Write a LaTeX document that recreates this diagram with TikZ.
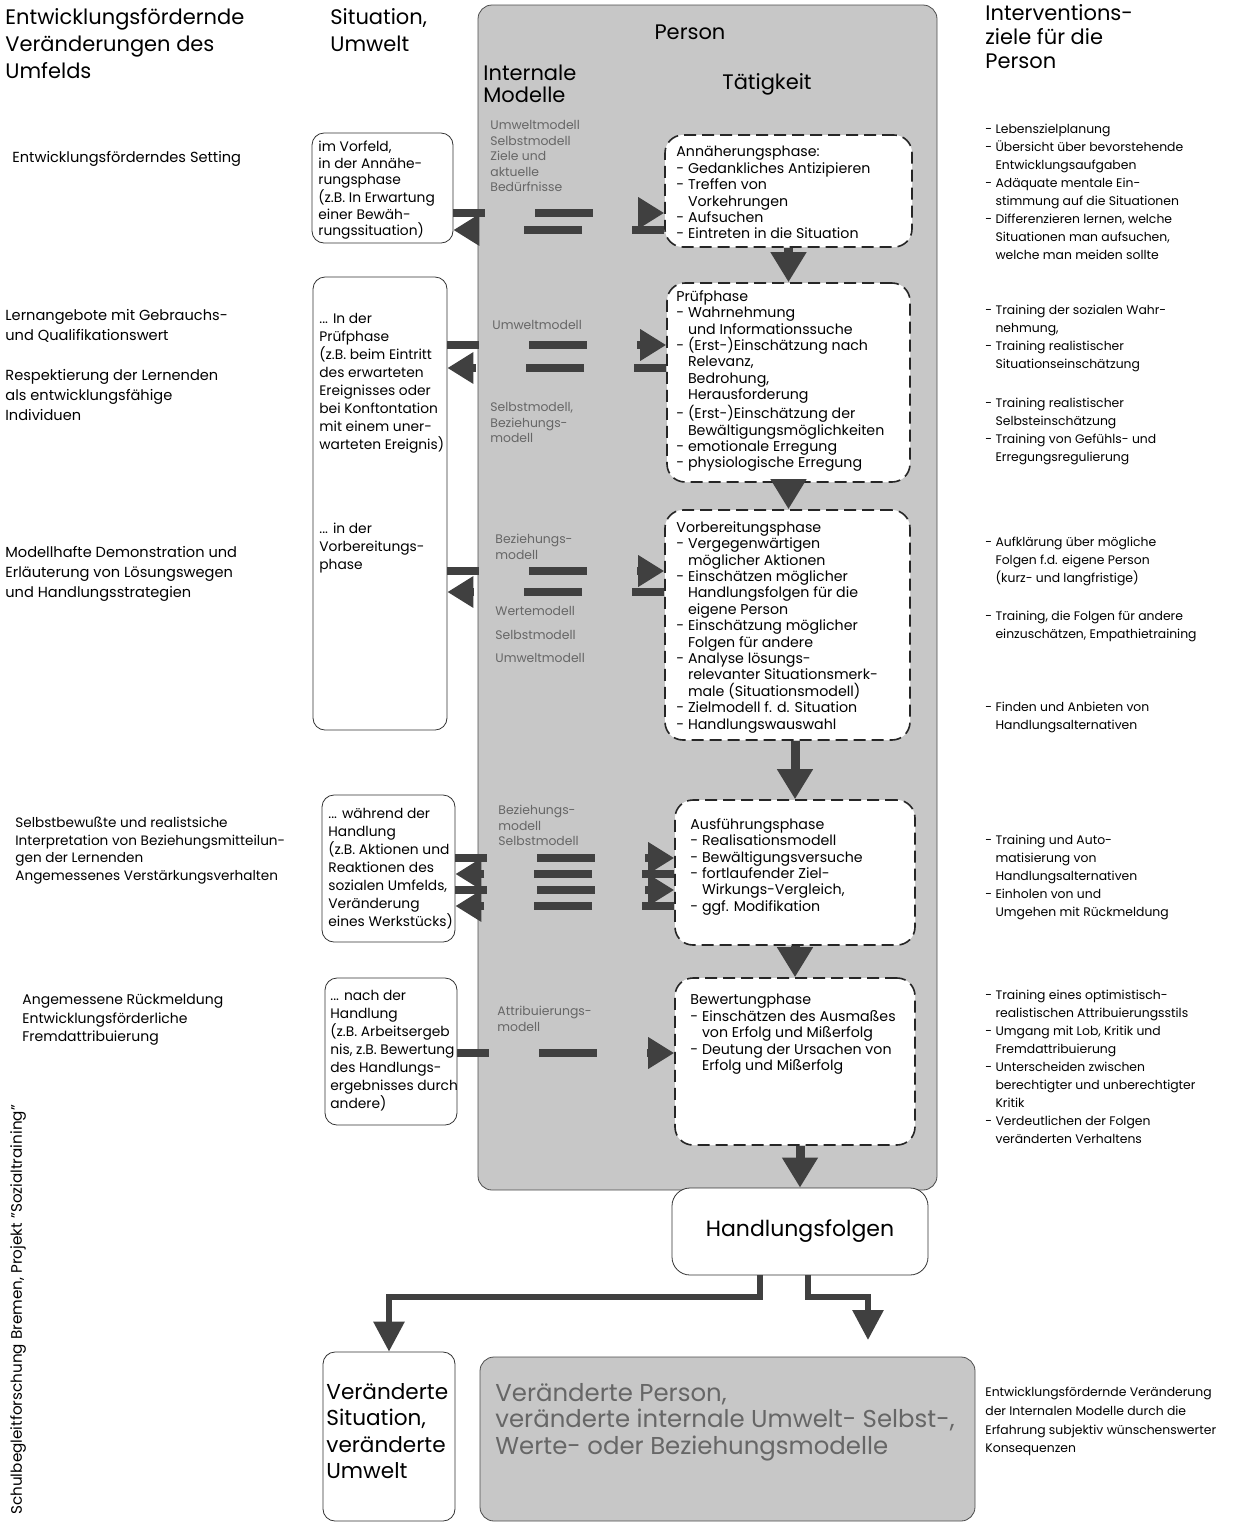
\documentclass[tikz,border=0pt]{standalone}
\usepackage{fontspec}
\setmainfont{Poppins}
\usetikzlibrary{arrows.meta,positioning,fit,calc}
\tikzset{txt/.style={align=left, inner sep=0pt, anchor=north west, font=\fontsize{7.1}{8.2}\selectfont},
         head/.style={txt, font=\fontsize{10.5}{13.5}\selectfont},
         lefttxt/.style={txt, font=\fontsize{7.3}{10}\selectfont},
         righttxt/.style={txt, font=\fontsize{6.2}{9}\selectfont},
         sittxt/.style={txt, font=\fontsize{6.9}{9}\selectfont},
         modtxt/.style={txt, font=\fontsize{6.2}{7.75}\selectfont, text=black!60},
         sitbox/.style={draw=black!80, thin, rounded corners=6pt, fill=white, inner sep=0pt},
         phasebox/.style={draw=black!85, thick, dash pattern=on 6pt off 3pt, rounded corners=9pt, fill=white, inner sep=0pt},
         shade/.style={fill=black!22, draw=black!70, thin, rounded corners=7pt, inner sep=0pt},
         flow/.style={-{Triangle[length=13pt,width=15pt]}, line width=4pt, draw=black!75, dash pattern=on 29pt off 25pt, dash phase=13pt},
         down/.style={-{Triangle[length=15pt,width=17pt]}, line width=4.5pt, draw=black!75},
         branch/.style={-{Triangle[length=15pt,width=15pt]}, line width=3pt, draw=black!75}
}
\newcommand{\ind}{\hphantom{- }}

\begin{document}
\begin{tikzpicture}[x=0.5pt, y=-0.5pt]
    \useasboundingbox (0,0) rectangle (1245,1523);

    % shaded areas
    \node[shade, fit={(478,5) (937,1190)}] (person) {};
    \node[shade, fit={(480,1357) (975,1521)}] (vp) {};

    % headings
    \node[head] (hUmfeld) at (5,8)   {Entwicklungsfördernde\\Veränderungen des\\Umfelds};
    \node[head] (hSit)    at (330,8) {Situation,\\Umwelt};
    \node[head, anchor=center] (hPerson) at (690,32) {Person};
    \node[head, font=\fontsize{10.5}{11}\selectfont] (hModelle) at (483,65) {Internale\\Modelle};
    \node[head] (hTaet)   at (722,73) {Tätigkeit};
    \node[head, font=\fontsize{10.5}{12}\selectfont] (hZiele) at (985,4) {Interventions-\\ziele für die\\Person};

    % Situation, Umwelt
    \node[sitbox, fit={(312,133) (453,243)}] (sit1) {};
    \node[sitbox, fit={(313,277) (447,730)}] (sit2) {};
    \node[sitbox, fit={(322,795) (455,942)}] (sit3) {};
    \node[sitbox, fit={(325,978) (457,1125)}] (sit4) {};
    \node[sitbox, fit={(323,1352) (455,1521)}] (vs) {};

    \node[sittxt, font=\fontsize{6.9}{8.1}\selectfont] (sit1t) at (318,141) {im Vorfeld,\\in der Annähe-\\rungsphase\\(z.B. In Erwartung\\einer Bewäh-\\rungssituation)};
    \node[sittxt] (sit2t) at (319,313) {... In der\\Prüfphase\\(z.B. beim Eintritt\\des erwarteten\\Ereignisses oder\\bei Konftontation\\mit einem uner-\\warteten Ereignis)};
    \node[sittxt] (sit2u) at (319,523) {... in der\\Vorbereitungs-\\phase};
    \node[sittxt] (sit3t) at (328,808) {... während der\\Handlung\\(z.B. Aktionen und\\Reaktionen des\\sozialen Umfelds,\\Veränderung\\eines Werkstücks)};
    \node[sittxt] (sit4t) at (330,990) {... nach der\\Handlung\\(z.B. Arbeitsergeb\\nis, z.B. Bewertung\\des Handlungs-\\ergebnisses durch\\andere)};
    \node[txt, font=\fontsize{10.8}{13.25}\selectfont] (vst) at (326,1383) {Veränderte\\Situation,\\veränderte\\Umwelt};

    % Phasen
    \node[phasebox, fit={(665,135) (912,247)}] (ph1) {};
    \node[phasebox, fit={(667,283) (910,482)}] (ph2) {};
    \node[phasebox, fit={(665,510) (910,740)}] (ph3) {};
    \node[phasebox, fit={(675,800) (915,945)}] (ph4) {};
    \node[phasebox, fit={(675,978) (915,1145)}] (ph5) {};
    \node[sitbox, rounded corners=9pt, fit={(672,1188) (928,1275)}] (hf) {};
    \node[font=\fontsize{11}{13}\selectfont] (hft) at (hf.center) {Handlungsfolgen};

    \node[txt] (ph1t) at (676,146) {Annäherungsphase:\\- Gedankliches  Antizipieren\\- Treffen von\\\ind Vorkehrungen\\- Aufsuchen\\- Eintreten in die Situation};
    \node[txt] (ph2t) at (676,290) {Prüfphase\\- Wahrnehmung\\\ind und Informationssuche\\- (Erst-)Einschätzung nach\\\ind Relevanz,\\\ind Bedrohung,\\\ind Herausforderung\\- (Erst-)Einschätzung der\\\ind Bewältigungsmöglichkeiten\\- emotionale Erregung\\- physiologische Erregung};
    \node[txt] (ph3t) at (676,521) {Vorbereitungsphase\\- Vergegenwärtigen\\\ind möglicher Aktionen\\- Einschätzen möglicher\\\ind Handlungsfolgen für die\\\ind eigene Person\\- Einschätzung möglicher\\\ind Folgen für andere\\- Analyse lösungs-\\\ind relevanter Situationsmerk-\\\ind male (Situationsmodell)\\- Zielmodell f. d. Situation\\- Handlungswauswahl};
    \node[txt] (ph4t) at (690,818) {Ausführungsphase\\- Realisationsmodell\\- Bewältigungsversuche\\- fortlaufender Ziel-\\\ind Wirkungs-Vergleich,\\- ggf. Modifikation};
    \node[txt] (ph5t) at (690,994) {Bewertungphase\\- Einschätzen des Ausmaßes\\\ind von Erfolg und Mißerfolg\\- Deutung der Ursachen von\\\ind Erfolg und Mißerfolg};

    % internale Modelle
    \node[modtxt] (m1) at (490,120) {Umweltmodell\\Selbstmodell\\Ziele und\\aktuelle\\Bedürfnisse};
    \node[modtxt] (m2) at (492,320) {Umweltmodell};
    \node[modtxt] (m3) at (490,402) {Selbstmodell,\\Beziehungs-\\modell};
    \node[modtxt] (m4) at (495,534) {Beziehungs-\\modell};
    \node[modtxt, font=\fontsize{6.2}{11.75}\selectfont] (m5) at (495,606) {Wertemodell\\Selbstmodell\\Umweltmodell};
    \node[modtxt] (m6) at (498,805) {Beziehungs-\\modell\\Selbstmodell};
    \node[modtxt] (m7) at (497,1006) {Attribuierungs-\\modell};
    \node[txt, font=\fontsize{12.2}{13.25}\selectfont, text=black!60] (vpt) at (495,1383) {Veränderte Person,\\veränderte internale Umwelt- Selbst-,\\Werte- oder Beziehungsmodelle};

    % Umfeld
    \node[lefttxt] (L1) at (12,151) {Entwicklungsförderndes Setting};
    \node[lefttxt] (L2) at (5,309) {Lernangebote mit Gebrauchs-\\und Qualifikationswert};
    \node[lefttxt] (L3) at (5,369) {Respektierung der Lernenden\\als entwicklungsfähige\\Individuen};
    \node[lefttxt] (L4) at (5,546) {Modellhafte Demonstration und\\Erläuterung von Lösungswegen\\und Handlungsstrategien};
    \node[lefttxt, font=\fontsize{6.8}{8.75}\selectfont] (L5) at (15,817) {Selbstbewußte und realistsiche\\Interpretation von Beziehungsmitteilun-\\gen der Lernenden\\Angemessenes Verstärkungsverhalten};
    \node[lefttxt, font=\fontsize{7}{9.25}\selectfont] (L6) at (22,994) {Angemessene Rückmeldung\\Entwicklungsförderliche\\Fremdattribuierung};

    % Interventionsziele
    \node[righttxt] (R1) at (985,124) {- Lebenszielplanung\\- Übersicht über bevorstehende\\\ind Entwicklungsaufgaben\\- Adäquate mentale Ein-\\\ind stimmung auf die Situationen\\- Differenzieren lernen, welche\\\ind Situationen man aufsuchen,\\\ind welche man meiden sollte};
    \node[righttxt] (R2) at (985,305) {- Training der sozialen Wahr-\\\ind nehmung,\\- Training realistischer\\\ind Situationseinschätzung};
    \node[righttxt] (R3) at (985,398) {- Training realistischer\\\ind Selbsteinschätzung\\- Training von Gefühls- und\\\ind Erregungsregulierung};
    \node[righttxt] (R4) at (985,537) {- Aufklärung über mögliche\\\ind Folgen f.d. eigene Person\\\ind (kurz- und langfristige)};
    \node[righttxt] (R5) at (985,611) {- Training, die Folgen für andere\\\ind einzuschätzen, Empathietraining};
    \node[righttxt] (R6) at (985,702) {- Finden und Anbieten von\\\ind Handlungsalternativen};
    \node[righttxt] (R7) at (985,835) {- Training und Auto-\\\ind matisierung von\\\ind Handlungsalternativen\\- Einholen von und\\\ind Umgehen mit Rückmeldung};
    \node[righttxt] (R8) at (985,990) {- Training eines optimistisch-\\\ind realistischen Attribuierungsstils\\- Umgang mit Lob, Kritik und\\\ind Fremdattribuierung\\- Unterscheiden zwischen\\\ind berechtigter  und unberechtigter\\\ind Kritik\\- Verdeutlichen der Folgen\\\ind veränderten Verhaltens};
    \node[righttxt, font=\fontsize{6.2}{9.35}\selectfont] (R9) at (985,1387) {Entwicklungsfördernde Veränderung\\der Internalen Modelle durch die\\Erfahrung subjektiv wünschenswerter\\Konsequenzen};

    \node[rotate=90, anchor=west, inner sep=0pt, font=\fontsize{7.6}{8}\selectfont] (credit) at (18,1515) {Schulbegleitforschung Bremen, Projekt "Sozialtraining"};

    % Pfeile Situation <-> Taetigkeit
    \draw[flow] (sit1.east |- 0,213) -- (ph1.west |- 0,213);
    \draw[flow] (ph1.west |- 0,230) -- (sit1.east |- 0,230);
    \draw[flow] (sit2.east |- 0,345) -- (ph2.west |- 0,345);
    \draw[flow] (ph2.west |- 0,368) -- (sit2.east |- 0,368);
    \draw[flow] (sit2.east |- 0,571) -- (ph3.west |- 0,571);
    \draw[flow] (ph3.west |- 0,592) -- (sit2.east |- 0,592);
    \draw[flow] (sit3.east |- 0,858) -- (ph4.west |- 0,858);
    \draw[flow] (ph4.west |- 0,874) -- (sit3.east |- 0,874);
    \draw[flow] (sit3.east |- 0,890) -- (ph4.west |- 0,890);
    \draw[flow] (ph4.west |- 0,906) -- (sit3.east |- 0,906);
    \draw[flow] (sit4.east |- 0,1053) -- (ph5.west |- 0,1053);

    % Phasenfolge
    \draw[down] (ph1.south) -- (ph2.north);
    \draw[down] (ph2.south) -- (ph2.south |- ph3.north);
    \draw[down] (ph4.north |- ph3.south) -- (ph4.north);
    \draw[down] (ph4.south) -- (ph5.north);
    \draw[down] (hf.north |- ph5.south) -- (hf.north);

    % Handlungsfolgen
    \coordinate (vptip) at (868,1340);
    \draw[branch] ([xshift=-20pt]hf.south) -- ++(0,22) -| (vs.north);
    \draw[branch] ([xshift=4pt]hf.south) -- ++(0,22) -| (vptip);
\end{tikzpicture}
\end{document}
